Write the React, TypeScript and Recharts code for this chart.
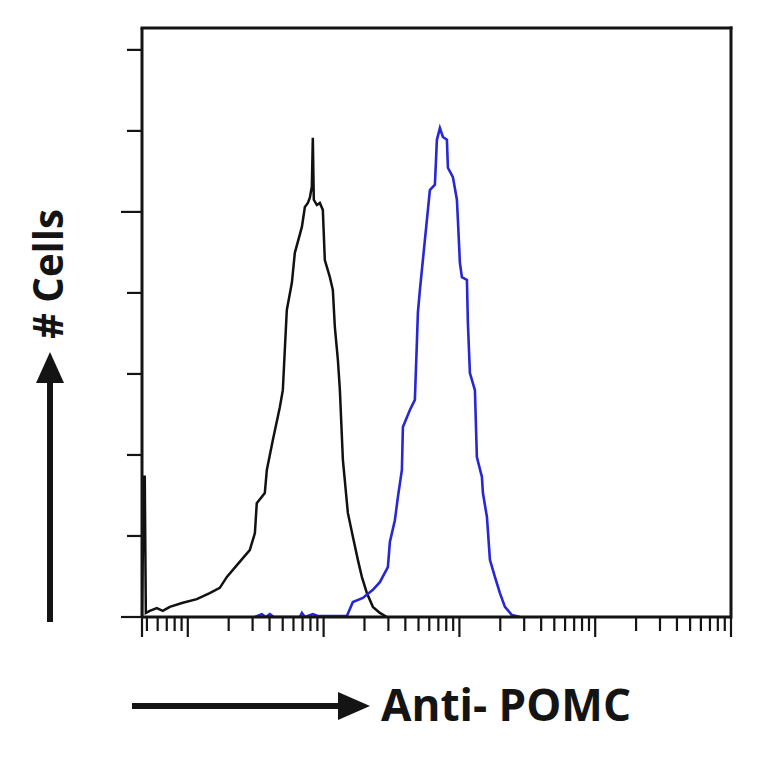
import React from 'react';
import { LineChart, Line, XAxis, YAxis, ReferenceLine } from 'recharts';

// control (isotype) histogram, black
const ctrlX = [4.6, 4.74, 4.82, 4.91, 5.25, 5.91, 6.54, 7.37, 9.19, 11.65, 14.5, 17.2, 19.4, 23.0, 28.6, 31.2, 32.2, 36.9, 38.2, 42.3, 47.6, 50.1, 51.8, 53.6, 58.4, 61.4, 69.2, 72.8, 76.6, 79.2, 81.9, 83.3, 84.7, 89.2, 93.8, 98.7, 102.1, 111.2, 117.0, 121.0, 127.4, 131.8, 138.7, 150.9, 164.3, 178.8, 191.3, 208.3, 230.6, 259.6, 292.4];
const ctrlCount = [0, 34.6, 34.6, 1.0, 1.5, 2.2, 1.5, 2.5, 3.5, 4.4, 5.9, 7.2, 9.9, 12.8, 16.5, 20.7, 28.1, 30.6, 36.3, 43.7, 51.8, 56.0, 65.9, 75.8, 82.5, 89.9, 96.3, 101.2, 102.2, 103.5, 106.2, 118.3, 103.0, 101.7, 102.2, 100.5, 88.1, 83.9, 80.7, 71.6, 63.5, 56.0, 38.8, 25.7, 19.8, 14.1, 9.9, 5.9, 2.5, 1.0, 0];

// Anti-POMC histogram, blue
const pomcX = [31.2, 35.1, 37.5, 40.2, 43.0, 66.8, 69.2, 72.8, 83.3, 90.7, 148.4, 164.3, 194.6, 230.6, 259.6, 297.4, 307.7, 334.9, 352.4, 377.2, 383.7, 431.9, 470.0, 486.3, 494.6, 511.7, 538.4, 576.2, 606.3, 660.1, 682.9, 718.6, 756.1, 809.1, 823.0, 895.9, 958.5, 975.0, 1008.6, 1043.3, 1136, 1155, 1195, 1301, 1345, 1465, 1490, 1595, 1678, 1826, 1988, 2164, 2436, 2791];
const pomcCount = [0, 0.7, 0, 0.7, 0, 0, 1.0, 0, 0.7, 0.25, 0.25, 3.7, 4.7, 6.7, 8.6, 12.3, 18.5, 23.9, 29.6, 36.3, 46.9, 51.1, 53.6, 67.7, 75.1, 80.7, 88.1, 98.0, 105.4, 106.7, 117.8, 120.7, 118.5, 117.8, 110.9, 108.6, 103.0, 98.0, 87.4, 83.9, 83.2, 72.6, 60.2, 56.0, 39.5, 34.6, 30.6, 24.7, 14.1, 9.9, 5.9, 2.5, 0.5, 0];

const xTicks = [
  4.6, 5, 6, 7, 8, 9,
  10, 20, 30, 40, 50, 60, 70, 80, 90,
  100, 200, 300, 400, 500, 600, 700, 800, 900,
  1000, 2000, 3000, 4000, 5000, 6000, 7000, 8000, 9000,
  10000, 20000, 30000, 40000, 50000, 60000, 70000, 80000, 90000,
  100000,
];
const xMajor = [4.6, 10, 100, 1000, 10000, 100000];
const yTicks = [0, 20, 40, 60, 80, 100, 120, 140];
const yMajor = [0, 100];
const xDomain = [4.6, 100000];
const yMax = 145.4;

const xLabel = 'Anti- POMC';
const yLabel = '# Cells';

const ctrlData = ctrlX.map((x, i) => ({ x, y: ctrlCount[i] }));
const pomcData = pomcX.map((x, i) => ({ x, y: pomcCount[i] }));

const INK = '#141414';
const FONT = '"Open Sans", "DejaVu Sans", sans-serif';

const XTick = (props: any) => {
  const { x, y, payload } = props;
  const len = xMajor.includes(payload.value) ? 20 : 14;
  return <line x1={x} x2={x} y1={y} y2={y + len} stroke={INK} strokeWidth={2.2} />;
};

const YTick = (props: any) => {
  const { x, y, payload } = props;
  const len = yMajor.includes(payload.value) ? 21 : 15;
  return <line x1={x - len} x2={x} y1={y} y2={y} stroke={INK} strokeWidth={2.2} />;
};

const XAxisLabel = (props: any) => {
  const vb = props.viewBox || { x: 142, y: 617 };
  const left = vb.x - 10;
  const cy = vb.y + 89;
  return (
    <g>
      <line x1={left} x2={left + 212} y1={cy} y2={cy} stroke={INK} strokeWidth={6} />
      <polygon points={`${left + 206},${cy - 14} ${left + 238},${cy} ${left + 206},${cy + 14}`} fill={INK} />
      <text
        x={left + 249}
        y={cy + 15}
        fontFamily={FONT}
        fontWeight={700}
        fontSize={45}
        fill={INK}
        textLength={250}
        lengthAdjust="spacingAndGlyphs"
      >
        {xLabel}
      </text>
    </g>
  );
};

const YAxisLabel = (props: any) => {
  const vb = props.viewBox || { x: 112, y: 28, width: 30, height: 589 };
  const bottom = vb.y + vb.height;
  const cx = vb.x + vb.width - 92;
  const ty = bottom - 343;
  return (
    <g>
      <line x1={cx} x2={cx} y1={bottom + 5} y2={bottom - 240} stroke={INK} strokeWidth={6} />
      <polygon points={`${cx - 14},${bottom - 234} ${cx},${bottom - 265} ${cx + 14},${bottom - 234}`} fill={INK} />
      <text
        x={cx + 13}
        y={ty}
        transform={`rotate(-90, ${cx + 13}, ${ty})`}
        textAnchor="middle"
        fontFamily={FONT}
        fontWeight={700}
        fontSize={42}
        fill={INK}
        textLength={130}
        lengthAdjust="spacingAndGlyphs"
      >
        {yLabel}
      </text>
    </g>
  );
};

export default function App() {
  return (
    <div style={{ position: 'absolute', left: 0, top: 0, width: 764, height: 764, background: '#fff' }}>
      <LineChart width={764} height={764} margin={{ top: 28, right: 33, bottom: 117, left: 112 }}>
        <XAxis
          dataKey="x"
          type="number"
          scale="log"
          domain={xDomain}
          ticks={xTicks}
          interval={0}
          allowDataOverflow
          height={30}
          tickSize={0}
          tickMargin={0}
          tickLine={false}
          tick={XTick}
          axisLine={{ stroke: INK, strokeWidth: 3 }}
          label={{ content: XAxisLabel }}
        />
        <YAxis
          type="number"
          domain={[0, yMax]}
          ticks={yTicks}
          interval={0}
          allowDataOverflow
          width={30}
          tickSize={0}
          tickMargin={0}
          tickLine={false}
          tick={YTick}
          axisLine={{ stroke: INK, strokeWidth: 3 }}
          label={{ content: YAxisLabel }}
        />
        <ReferenceLine y={yMax} stroke={INK} strokeWidth={3} strokeLinecap="square" />
        <ReferenceLine x={100000} stroke={INK} strokeWidth={3} strokeLinecap="square" />
        <Line
          data={ctrlData}
          dataKey="y"
          type="linear"
          stroke="#111"
          strokeWidth={2.5}
          dot={false}
          isAnimationActive={false}
        />
        <Line
          data={pomcData}
          dataKey="y"
          type="linear"
          stroke="#2727d6"
          strokeWidth={2.6}
          dot={false}
          isAnimationActive={false}
        />
      </LineChart>
    </div>
  );
}
